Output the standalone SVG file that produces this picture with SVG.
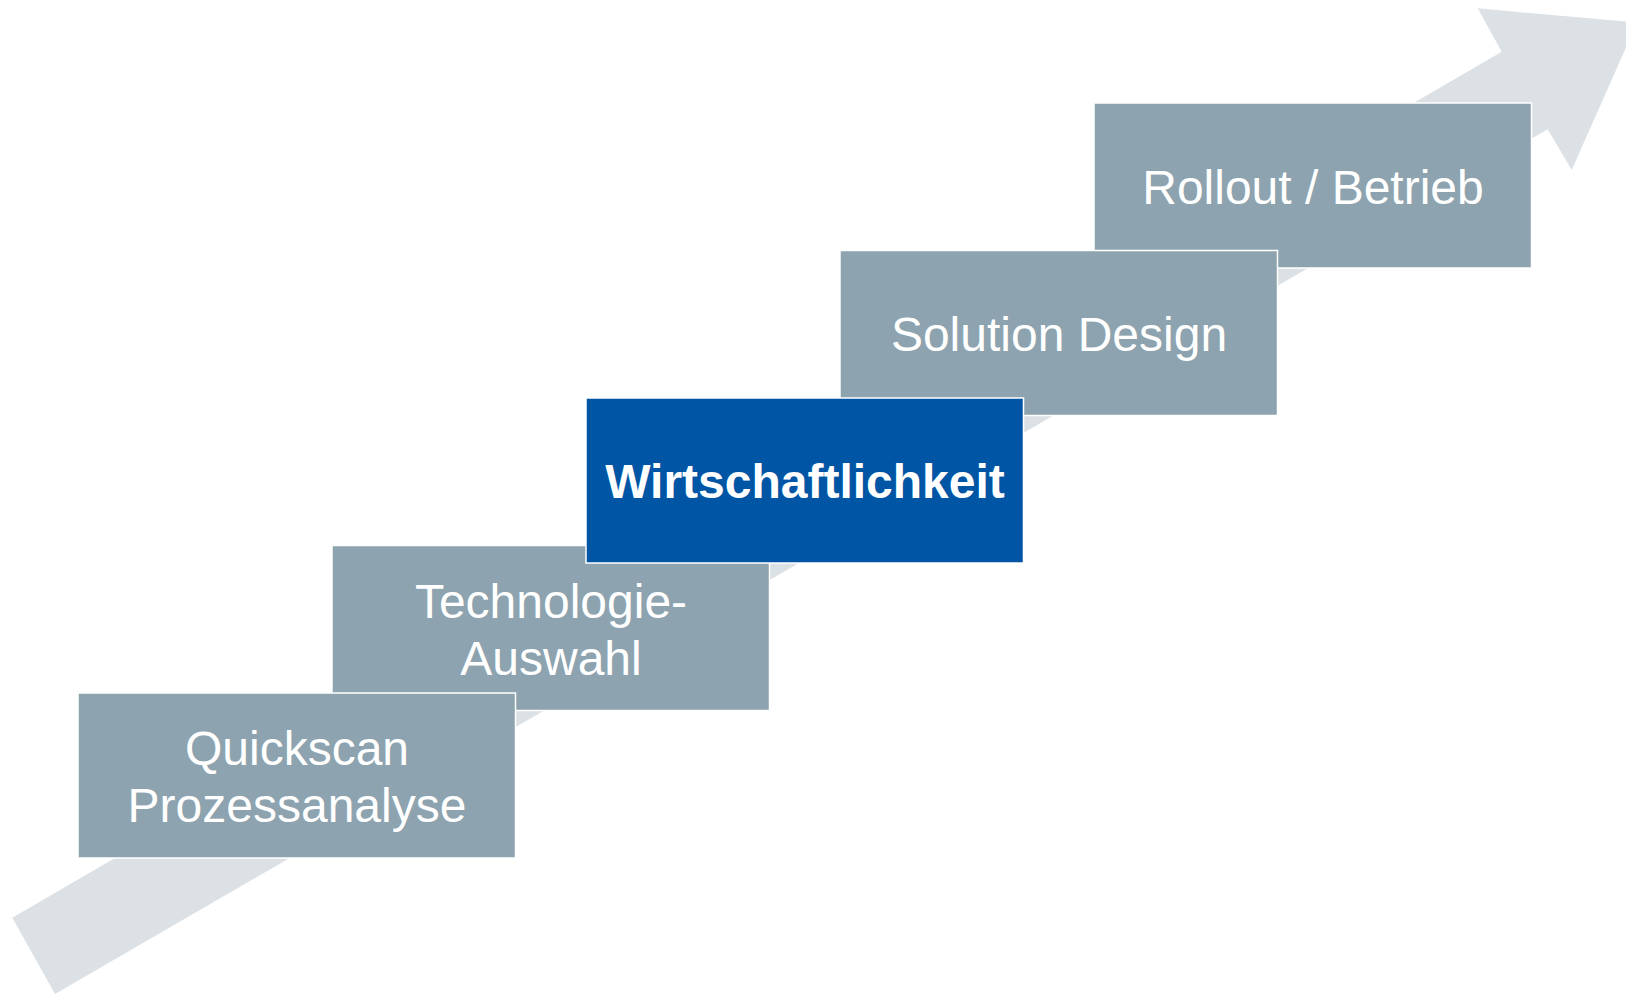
<svg xmlns="http://www.w3.org/2000/svg" width="1626" height="995" viewBox="0 0 1626 995">
  <style>
    .box { fill: #8DA3AF; stroke: #FFFFFF; stroke-width: 1.5; }
    .hl { fill: #0055A5; stroke: #FFFFFF; stroke-width: 1.5; }
    .lbl { font-family: "Liberation Sans", Arial, sans-serif; font-size: 48px; fill: #FFFFFF; text-anchor: middle; }
    .bold { font-weight: bold; }
  </style>
  <rect x="0" y="0" width="1626" height="995" fill="#FFFFFF"/>
  <g id="connectors">
    <polygon id="arrow" fill="#DCE1E5" points="12.3,917.7 1501.7,51.7 1477.7,8.3 1637,22.6 1571.7,170 1547.7,129.3 55,994"/>
  </g>
  <g id="node-rollout">
    <rect class="box" x="1094" y="103" width="437.5" height="165"/>
    <text class="lbl" x="1313" y="203.5">Rollout / Betrieb</text>
  </g>
  <g id="node-solution">
    <rect class="box" x="840" y="250.5" width="437.5" height="165"/>
    <text class="lbl" x="1059" y="351">Solution Design</text>
  </g>
  <g id="node-technologie">
    <rect class="box" x="332" y="545.5" width="437.5" height="165"/>
    <text class="lbl" x="551" y="617.5">Technologie-</text>
    <text class="lbl" x="551" y="674.5">Auswahl</text>
  </g>
  <g id="node-quickscan">
    <rect class="box" x="78" y="693" width="437.5" height="165"/>
    <text class="lbl" x="297" y="765">Quickscan</text>
    <text class="lbl" x="297" y="822">Prozessanalyse</text>
  </g>
  <g id="node-wirtschaftlichkeit">
    <rect class="hl" x="586" y="398" width="437.5" height="165"/>
    <text class="lbl bold" x="805" y="498">Wirtschaftlichkeit</text>
  </g>
</svg>
